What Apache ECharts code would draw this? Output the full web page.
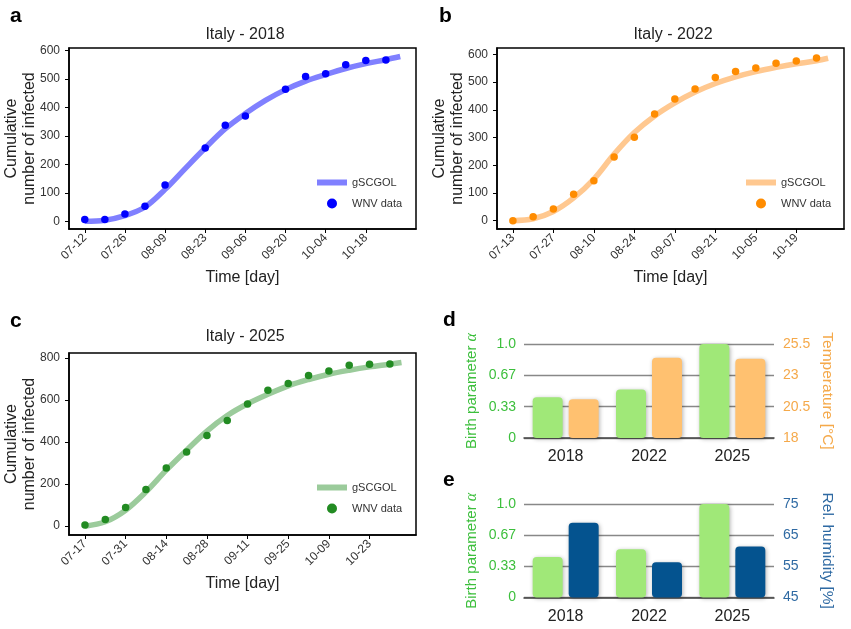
<!DOCTYPE html>
<html><head><meta charset="utf-8">
<script src="https://cdn.jsdelivr.net/npm/echarts@6/dist/echarts.min.js"></script>
<style>html,body{margin:0;padding:0;background:#fff}#c{width:851px;height:629px}</style>
</head><body><div id="c"></div>
<script>
const FONT = "'Liberation Sans', Arial, sans-serif";

// ---- shared tick positions (days since first observation) ----
const tickDays = [0, 14, 28, 42, 56, 70, 84, 98];

// ---- Panel a: Italy 2018 ----
const ticksA = ['07-12','07-26','08-09','08-23','09-06','09-20','10-04','10-18'];
const daysA  = [0, 7, 14, 21, 28, 42, 49, 56, 70, 77, 84, 91, 98, 105];
const dataA  = [6, 6, 26, 53, 127, 257, 337, 369, 463, 508, 518, 549, 564, 566];
const fitDaysA = [0, 7, 14, 21, 28, 35, 42, 49, 56, 63, 70, 77, 84, 91, 98, 105, 110];
const fitA     = [0, 4, 20, 50, 112, 185, 257, 325, 378, 424, 462, 492, 515, 536, 553, 567, 578];

// ---- Panel b: Italy 2022 ----
const ticksB = ['07-13','07-27','08-10','08-24','09-07','09-21','10-05','10-19'];
const daysB  = [0, 7, 14, 21, 28, 35, 42, 49, 56, 63, 70, 77, 84, 91, 98, 105];
const dataB  = [0, 14, 42, 95, 144, 230, 301, 385, 439, 475, 517, 538, 551, 568, 576, 587];
const fitDaysB = [0, 7, 14, 21, 28, 35, 42, 49, 56, 63, 70, 77, 84, 91, 98, 105, 109];
const fitB     = [0, 7, 33, 82, 150, 240, 318, 378, 425, 464, 495, 519, 538, 553, 566, 577, 586];

// ---- Panel c: Italy 2025 ----
const ticksC = ['07-17','07-31','08-14','08-28','09-11','09-25','10-09','10-23'];
const daysC  = [0, 7, 14, 21, 28, 35, 42, 49, 56, 63, 70, 77, 84, 91, 98, 105];
const dataC  = [5, 32, 89, 174, 276, 352, 431, 502, 581, 646, 678, 716, 738, 765, 770, 771];
const fitDaysC = [0, 7, 14, 21, 28, 35, 42, 49, 56, 63, 70, 77, 84, 91, 98, 105, 109];
const fitC     = [0, 21, 76, 163, 266, 361, 452, 526, 582, 627, 667, 697, 722, 741, 757, 770, 778];

// ---- Panels d/e ----
const years = ['2018', '2022', '2025'];
const alpha = [0.433, 0.515, 1.0];
const temperature = [21.1, 24.4, 24.33];
const humidity = [69.0, 56.3, 61.4];
const alphaTicks = [0, 1/3, 2/3, 1];

const pairs = (xs, ys) => xs.map((x, i) => [x, ys[i]]);

function lineGrid(left, top, height) {
  return { left: left, top: top, width: 347, height: height, show: true,
           borderColor: '#000', borderWidth: 1.5, backgroundColor: 'transparent' };
}
function xLine(gi, labels, max) {
  return {
    type: 'value', gridIndex: gi, min: -5.5, max: max,
    name: 'Time [day]', nameLocation: 'middle', nameGap: 41,
    nameTextStyle: { fontSize: 16, color: '#222', fontFamily: FONT },
    axisLine: { show: true, onZero: false, lineStyle: { color: '#000', width: 1.5 } },
    axisTick: { show: true, length: 4, lineStyle: { color: '#000', width: 1 }, customValues: tickDays },
    axisLabel: { customValues: tickDays, rotate: 45, margin: 7, fontSize: 12, color: '#333', fontFamily: FONT,
                 formatter: v => labels[tickDays.indexOf(v)] },
    splitLine: { show: false }
  };
}
function yLine(gi, min, max, ticks) {
  return {
    type: 'value', gridIndex: gi, min: min, max: max,
    name: 'Cumulative\nnumber of infected', nameLocation: 'middle', nameGap: 30, nameMoveOverlap: false,
    nameTextStyle: { fontSize: 16, color: '#222', fontFamily: FONT, lineHeight: 18 },
    axisLine: { show: true, onZero: false, lineStyle: { color: '#000', width: 1.5 } },
    axisTick: { show: true, length: 4, lineStyle: { color: '#000', width: 1 }, customValues: ticks },
    axisLabel: { customValues: ticks, margin: 9, fontSize: 12, color: '#333', fontFamily: FONT },
    splitLine: { show: false }
  };
}
const ticks600 = [0, 100, 200, 300, 400, 500, 600];
const ticks800 = [0, 200, 400, 600, 800];

function barX(gi) {
  return {
    type: 'category', gridIndex: gi, data: years,
    axisLine: { show: true, onZero: false, lineStyle: { color: '#444', width: 1.5 } },
    axisTick: { show: false },
    axisLabel: { fontSize: 16, color: '#222', margin: 11, fontFamily: FONT },
    splitLine: { show: false }
  };
}
function alphaAxis(gi) {
  return {
    type: 'value', gridIndex: gi, position: 'left', min: 0, max: 1,
    name: 'Birth parameter {i|α}', nameLocation: 'middle', nameGap: 44, nameRotate: 90,
    nameTextStyle: { fontSize: 15, color: '#3cbf3c', fontFamily: FONT,
                     rich: { i: { fontStyle: 'italic', fontSize: 16, color: '#3cbf3c', fontFamily: "'Liberation Serif', serif" } } },
    axisLine: { show: false }, axisTick: { show: false },
    axisLabel: { customValues: alphaTicks, fontSize: 14, color: '#3cbf3c', margin: 8, fontFamily: FONT,
                 formatter: v => v === 0 ? '0' : (v > 0.99 ? '1.0' : v.toFixed(2)) },
    splitLine: { show: false }
  };
}
function rightAxis(gi, name, min, max, interval, color) {
  return {
    type: 'value', gridIndex: gi, position: 'right', min: min, max: max, interval: interval, startValue: min,
    name: name, nameLocation: 'middle', nameGap: 45, nameRotate: -90,
    nameTextStyle: { fontSize: 15.5, color: color, fontFamily: FONT },
    axisLine: { show: false }, axisTick: { show: false },
    axisLabel: { fontSize: 14, color: color, margin: 9, fontFamily: FONT },
    splitLine: { show: true, lineStyle: { color: '#888', width: 1.3 } }
  };
}
const barStyle = (c) => ({ color: c, borderRadius: 4, shadowBlur: 4, shadowColor: 'rgba(0,0,0,0.3)', shadowOffsetX: 1, shadowOffsetY: 1 });

function legend(left, top, fit, dat) {
  return {
    orient: 'vertical', left: left, top: top, padding: 0, itemWidth: 30, itemHeight: 10, itemGap: 10,
    data: [{ name: fit, icon: 'path://M0 0H30V6H0Z' }, { name: dat, icon: 'circle' }],
    formatter: n => n.startsWith('fit') ? 'gSCGOL' : 'WNV data',
    textStyle: { fontSize: 11, color: '#333', fontFamily: FONT },
    selectedMode: false
  };
}
function fitSeries(name, xi, days, vals, color) {
  return { name: name, type: 'line', xAxisIndex: xi, yAxisIndex: xi, data: pairs(days, vals),
           smooth: 0.35, showSymbol: false, symbol: 'none',
           lineStyle: { width: 5.5, color: color }, itemStyle: { color: color }, z: 2 };
}
function dataSeries(name, xi, days, vals, color) {
  return { name: name, type: 'scatter', xAxisIndex: xi, yAxisIndex: xi, data: pairs(days, vals),
           symbolSize: 7.5, itemStyle: { color: color, opacity: 1 }, z: 3 };
}
const lbl = (t, left, top) => ({ text: t, left: left, top: top, padding: 0,
  textStyle: { fontSize: 21, fontWeight: 'bold', color: '#000', fontFamily: FONT } });
const ttl = (t, left, top) => ({ text: t, left: left, top: top, padding: 0, textAlign: 'center',
  textStyle: { fontSize: 16, fontWeight: 'normal', color: '#222', fontFamily: FONT } });

const option = {
  animation: false,
  backgroundColor: '#fff',
  title: [
    lbl('a', 10, 6), lbl('b', 439, 6), lbl('c', 10, 311), lbl('d', 443, 310), lbl('e', 443, 470),
    ttl('Italy - 2018', 245, 27), ttl('Italy - 2022', 673, 27), ttl('Italy - 2025', 245, 329)
  ],
  grid: [
    lineGrid(69, 48, 181),
    lineGrid(497, 48, 181),
    lineGrid(69, 353, 182),
    { left: 524, top: 344, width: 250, height: 94 },
    { left: 524, top: 504, width: 250, height: 93.5 }
  ],
  xAxis: [
    xLine(0, ticksA, 115.5),
    xLine(1, ticksB, 114.5),
    xLine(2, ticksC, 114),
    barX(3), barX(4)
  ],
  yAxis: [
    yLine(0, -27, 608, ticks600),
    yLine(1, -30, 623, ticks600),
    yLine(2, -42, 823, ticks800),
    alphaAxis(3),
    rightAxis(3, 'Temperature [°C]', 18, 25.5, 2.5, '#f5a94a'),
    alphaAxis(4),
    rightAxis(4, 'Rel. humidity [%]', 45, 75, 10, '#2f6aa3')
  ],
  legend: [
    legend(317, 177, 'fitA', 'dataA'),
    legend(746, 177, 'fitB', 'dataB'),
    legend(317, 482, 'fitC', 'dataC')
  ],
  series: [
    fitSeries('fitA', 0, fitDaysA, fitA, '#8080ff'),
    dataSeries('dataA', 0, daysA, dataA, '#0000ff'),
    fitSeries('fitB', 1, fitDaysB, fitB, '#ffc890'),
    dataSeries('dataB', 1, daysB, dataB, '#ff8c00'),
    fitSeries('fitC', 2, fitDaysC, fitC, '#9bcb9b'),
    dataSeries('dataC', 2, daysC, dataC, '#228b22'),
    { name: 'alphaD', type: 'bar', xAxisIndex: 3, yAxisIndex: 3, data: alpha, barWidth: 30, barGap: '20%', itemStyle: barStyle('#a0e878') },
    { name: 'tempD', type: 'bar', xAxisIndex: 3, yAxisIndex: 4, data: temperature, barWidth: 30, barGap: '20%', itemStyle: barStyle('#ffc170') },
    { name: 'alphaE', type: 'bar', xAxisIndex: 4, yAxisIndex: 5, data: alpha, barWidth: 30, barGap: '20%', itemStyle: barStyle('#a0e878') },
    { name: 'humE', type: 'bar', xAxisIndex: 4, yAxisIndex: 6, data: humidity, barWidth: 30, barGap: '20%', itemStyle: barStyle('#04538f') }
  ]
};
const chart = echarts.init(document.getElementById('c'), null, { renderer: 'canvas' });
chart.setOption(option);
</script>
</body></html>
